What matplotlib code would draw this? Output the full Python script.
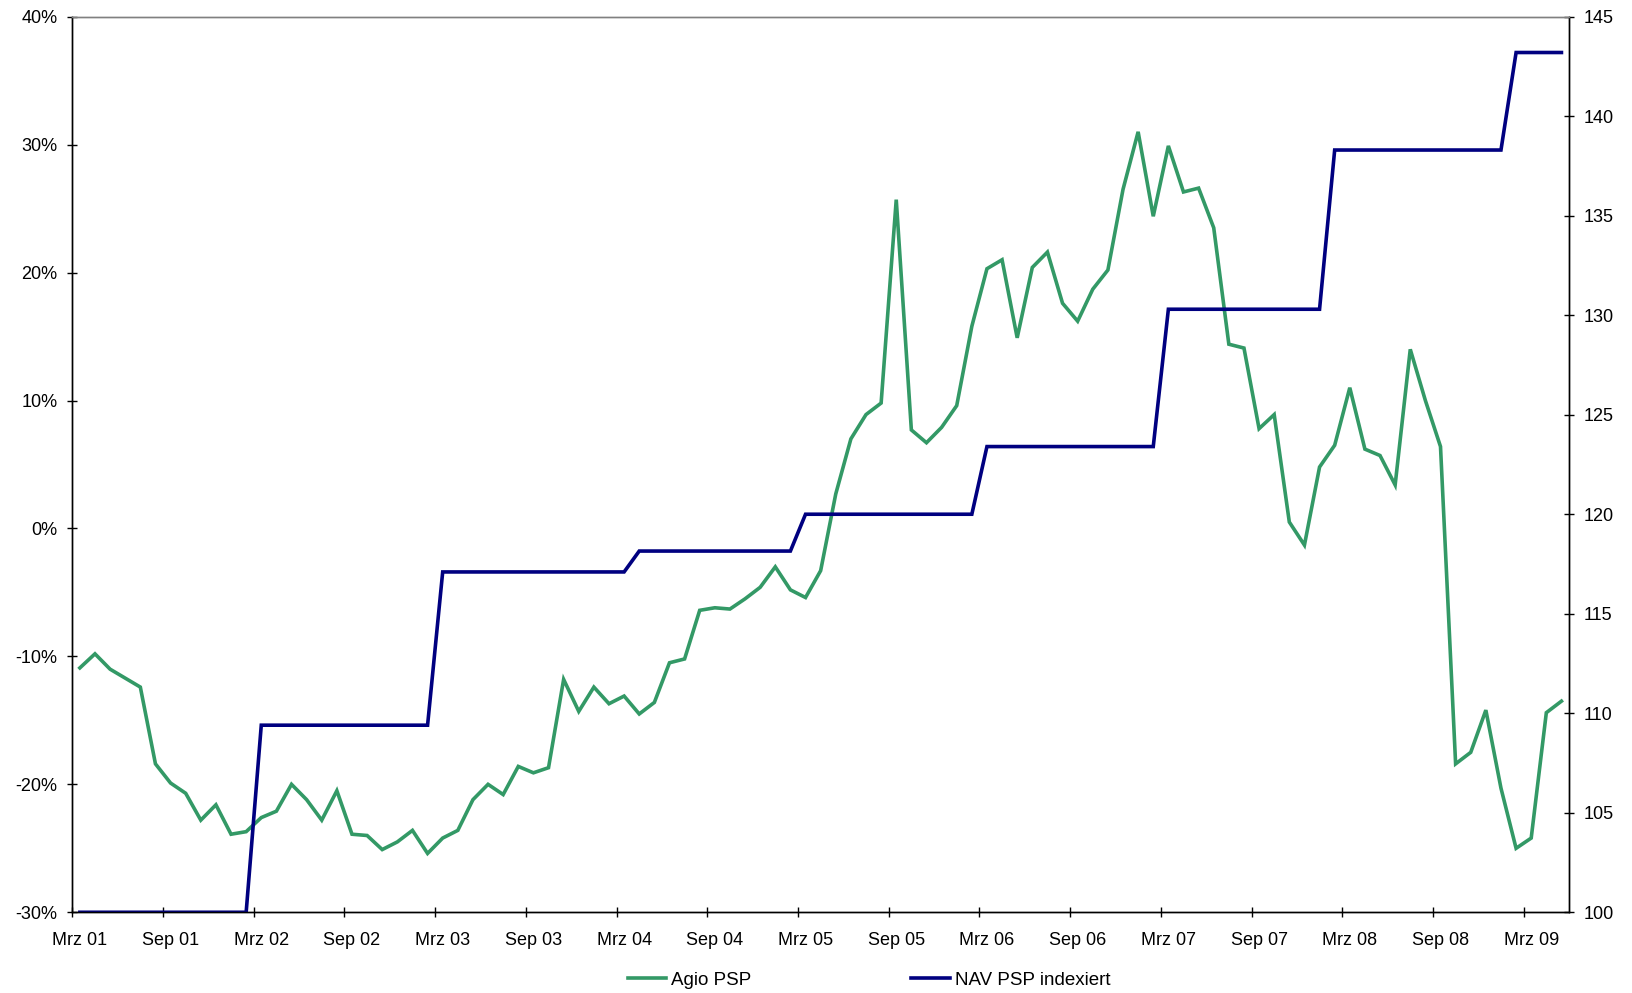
import matplotlib
matplotlib.use("Agg")
from matplotlib import pyplot as plt
from matplotlib.ticker import FixedLocator, FuncFormatter

plt.rcParams['font.family'] = ['Liberation Sans', 'DejaVu Sans']

# Monatswerte Mrz 2001 bis Mai 2009
agio = [
    -10.9, -9.8, -11.0, -11.7, -12.4, -18.4, -19.9, -20.7, -22.8, -21.6,
    -23.9, -23.7, -22.6, -22.1, -20.0, -21.2, -22.8, -20.5, -23.9, -24.0,
    -25.1, -24.5, -23.6, -25.4, -24.2, -23.6, -21.2, -20.0, -20.8, -18.6,
    -19.1, -18.7, -11.8, -14.3, -12.4, -13.7, -13.1, -14.5, -13.6, -10.5,
    -10.2, -6.4, -6.2, -6.3, -5.5, -4.6, -3.0, -4.8, -5.4, -3.3,
    2.7, 7.0, 8.9, 9.8, 25.7, 7.7, 6.7, 7.9, 9.6, 15.8,
    20.3, 21.0, 14.9, 20.4, 21.6, 17.6, 16.2, 18.7, 20.2, 26.5,
    31.0, 24.4, 29.9, 26.3, 26.6, 23.5, 14.4, 14.1, 7.8, 8.9,
    0.5, -1.3, 4.8, 6.5, 11.0, 6.2, 5.7, 3.4, 14.0, 10.0,
    6.4, -18.4, -17.5, -14.2, -20.3, -25.0, -24.2, -14.4, -13.5,
]

nav = [
    100.0, 100.0, 100.0, 100.0, 100.0, 100.0, 100.0, 100.0, 100.0, 100.0,
    100.0, 100.0, 109.4, 109.4, 109.4, 109.4, 109.4, 109.4, 109.4, 109.4,
    109.4, 109.4, 109.4, 109.4, 117.1, 117.1, 117.1, 117.1, 117.1, 117.1,
    117.1, 117.1, 117.1, 117.1, 117.1, 117.1, 117.1, 118.15, 118.15, 118.15,
    118.15, 118.15, 118.15, 118.15, 118.15, 118.15, 118.15, 118.15, 120.0, 120.0,
    120.0, 120.0, 120.0, 120.0, 120.0, 120.0, 120.0, 120.0, 120.0, 120.0,
    123.4, 123.4, 123.4, 123.4, 123.4, 123.4, 123.4, 123.4, 123.4, 123.4,
    123.4, 123.4, 130.3, 130.3, 130.3, 130.3, 130.3, 130.3, 130.3, 130.3,
    130.3, 130.3, 130.3, 138.3, 138.3, 138.3, 138.3, 138.3, 138.3, 138.3,
    138.3, 138.3, 138.3, 138.3, 138.3, 143.2, 143.2, 143.2, 143.2,
]

labels = ['Mrz 01', 'Sep 01', 'Mrz 02', 'Sep 02', 'Mrz 03', 'Sep 03',
          'Mrz 04', 'Sep 04', 'Mrz 05', 'Sep 05', 'Mrz 06', 'Sep 06',
          'Mrz 07', 'Sep 07', 'Mrz 08', 'Sep 08', 'Mrz 09']

green = '#339966'
navy = '#000080'
fs = 13

x = list(range(len(agio)))

fig = plt.figure(figsize=(16.32, 9.93), dpi=100)
ax = fig.add_axes([0.0443, 0.0813, 0.9171, 0.9019])
ax2 = ax.twinx()

ax.plot(x, agio, color=green, lw=2.6, label='Agio PSP', solid_joinstyle='miter')
ax2.plot(x, nav, color=navy, lw=2.6, label='NAV PSP indexiert', solid_joinstyle='miter')

ax.set_xlim(-0.5, len(agio) - 0.5)
ax.set_ylim(-30, 40)
ax2.set_ylim(100, 145)

# Striche zwischen den Monaten, Beschriftung mittig auf dem Monat
lab_pos = [6 * k for k in range(len(labels))]
ax.xaxis.set_major_locator(FixedLocator([p - 0.5 for p in lab_pos]))
ax.xaxis.set_major_formatter(FuncFormatter(lambda v, p: ''))
ax.set_xticks(lab_pos, labels, minor=True)
ax.tick_params(axis='x', which='major', direction='inout', length=7, width=1)
ax.tick_params(axis='x', which='minor', length=0, pad=14, labelsize=fs)

ax.set_yticks(range(-30, 41, 10))
ax.yaxis.set_major_formatter(FuncFormatter(lambda v, p: '%d%%' % v))
ax.tick_params(axis='y', direction='inout', length=7, width=1, pad=7, labelsize=fs)

ax2.set_yticks(range(100, 146, 5))
ax2.tick_params(axis='y', direction='inout', length=7, width=1, pad=7, labelsize=fs)

for a in (ax, ax2):
    for s in a.spines.values():
        s.set_color('black')
        s.set_linewidth(1)
    a.spines['top'].set_color('#808080')

fig.legend(loc='center', bbox_to_anchor=(0.5325, 0.013), ncol=2, frameon=False,
           fontsize=13.5, handlelength=2.05, handletextpad=0.28, columnspacing=8.5)

fig.savefig('out.png', dpi=100)
